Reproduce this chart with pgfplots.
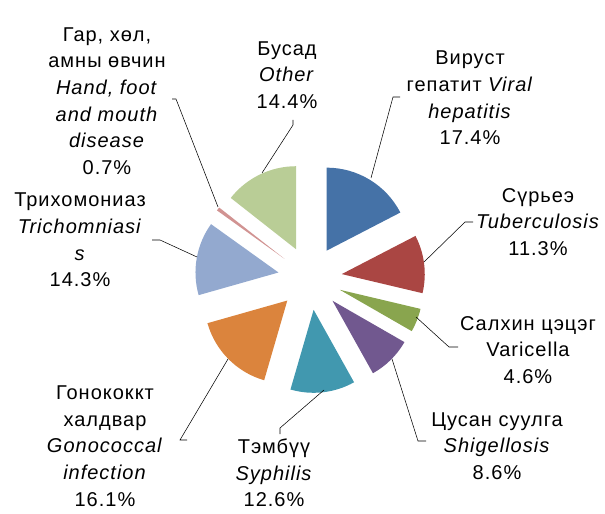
\documentclass[border=0pt]{standalone}
\usepackage{pgfplots}
\pgfplotsset{compat=1.18}
\usepackage{fontspec}
\setmainfont[LetterSpace=5]{Liberation Sans}

\definecolor{c1}{RGB}{69,114,167}
\definecolor{c2}{RGB}{170,70,67}
\definecolor{c3}{RGB}{137,165,78}
\definecolor{c4}{RGB}{113,88,143}
\definecolor{c5}{RGB}{65,152,175}
\definecolor{c6}{RGB}{219,132,61}
\definecolor{c7}{RGB}{147,169,207}
\definecolor{c8}{RGB}{209,147,146}
\definecolor{c9}{RGB}{185,205,150}

% share (%) / colour, clockwise from 12 o'clock
\def\slices{17.4/c1, 11.3/c2, 4.6/c3, 8.6/c4, 12.6/c5, 16.1/c6, 14.3/c7, 0.7/c8, 14.4/c9}

\tikzset{lbl/.style={font=\fontsize{15}{20}\selectfont, align=center, inner sep=0pt}}

\begin{document}
\begin{tikzpicture}
\begin{axis}[
  x=0.75pt, y=0.75pt,
  xmin=0, xmax=605, ymin=0, ymax=513,
  hide axis, clip=false,
]
\path (axis cs:0,0) rectangle (axis cs:605,513);
\gdef\cum{0}
\foreach \v/\c in \slices {
  \pgfmathsetmacro\aa{90-3.6*\cum}
  \pgfmathsetmacro\ab{90-3.6*(\cum+\v)}
  \pgfmathsetmacro\am{(\aa+\ab)/2}
  \pgfmathsetmacro\px{310+32*cos(\am)}
  \pgfmathsetmacro\py{235+32*sin(\am)}
  \pgfmathsetmacro\qx{\px+83*cos(\aa)}
  \pgfmathsetmacro\qy{\py+83*sin(\aa)}
  \edef\tmp{\noexpand\fill[\c] (axis cs:\px,\py) -- (axis cs:\qx,\qy)
    arc[start angle=\aa, end angle=\ab, radius=62.25pt] -- cycle;}
  \tmp
  \pgfmathsetmacro\newcum{\cum+\v}
  \xdef\cum{\newcum}
}

% leader lines
\draw[thin] (axis cs:172,414) -- (axis cs:176,414) -- (axis cs:218,306);
\draw[thin] (axis cs:293,393) -- (axis cs:293,388) -- (axis cs:262,340);
\draw[thin] (axis cs:400,416) -- (axis cs:393,416) -- (axis cs:371,335);
\draw[thin] (axis cs:473,291) -- (axis cs:465,291) -- (axis cs:424,251);
\draw[thin] (axis cs:416,196) -- (axis cs:449,166) -- (axis cs:458,166);
\draw[thin] (axis cs:392,154) -- (axis cs:418,72) -- (axis cs:426,72);
\draw[thin] (axis cs:324,123) -- (axis cs:280,85) -- (axis cs:280,79);
\draw[thin] (axis cs:228,154) -- (axis cs:180,73) -- (axis cs:187,73);
\draw[thin] (axis cs:152,273) -- (axis cs:160,273) -- (axis cs:197,256);

% labels
\node[lbl] at (axis cs:107,412) {Гар, хөл,\\амны өвчин\\\textit{Hand, foot}\\\textit{and mouth}\\\textit{disease}\\0.7\%};
\node[lbl] at (axis cs:287,438) {Бусад\\\textit{Other}\\14.4\%};
\node[lbl] at (axis cs:470,415) {Вируст\\гепатит \textit{Viral}\\\textit{hepatitis}\\17.4\%};
\node[lbl] at (axis cs:538,291) {Сүрьеэ\\\textit{Tuberculosis}\\11.3\%};
\node[lbl] at (axis cs:528,163) {Салхин цэцэг\\Varicella\\4.6\%};
\node[lbl] at (axis cs:497,67) {Цусан суулга\\\textit{Shigellosis}\\8.6\%};
\node[lbl] at (axis cs:274,40) {Тэмбүү\\\textit{Syphilis}\\12.6\%};
\node[lbl] at (axis cs:105,67) {Гонококкт\\халдвар\\\textit{Gonococcal}\\\textit{infection}\\16.1\%};
\node[lbl] at (axis cs:80,273) {Трихомониаз\\\textit{Trichomniasi}\\\textit{s}\\14.3\%};
\end{axis}
\end{tikzpicture}
\end{document}
